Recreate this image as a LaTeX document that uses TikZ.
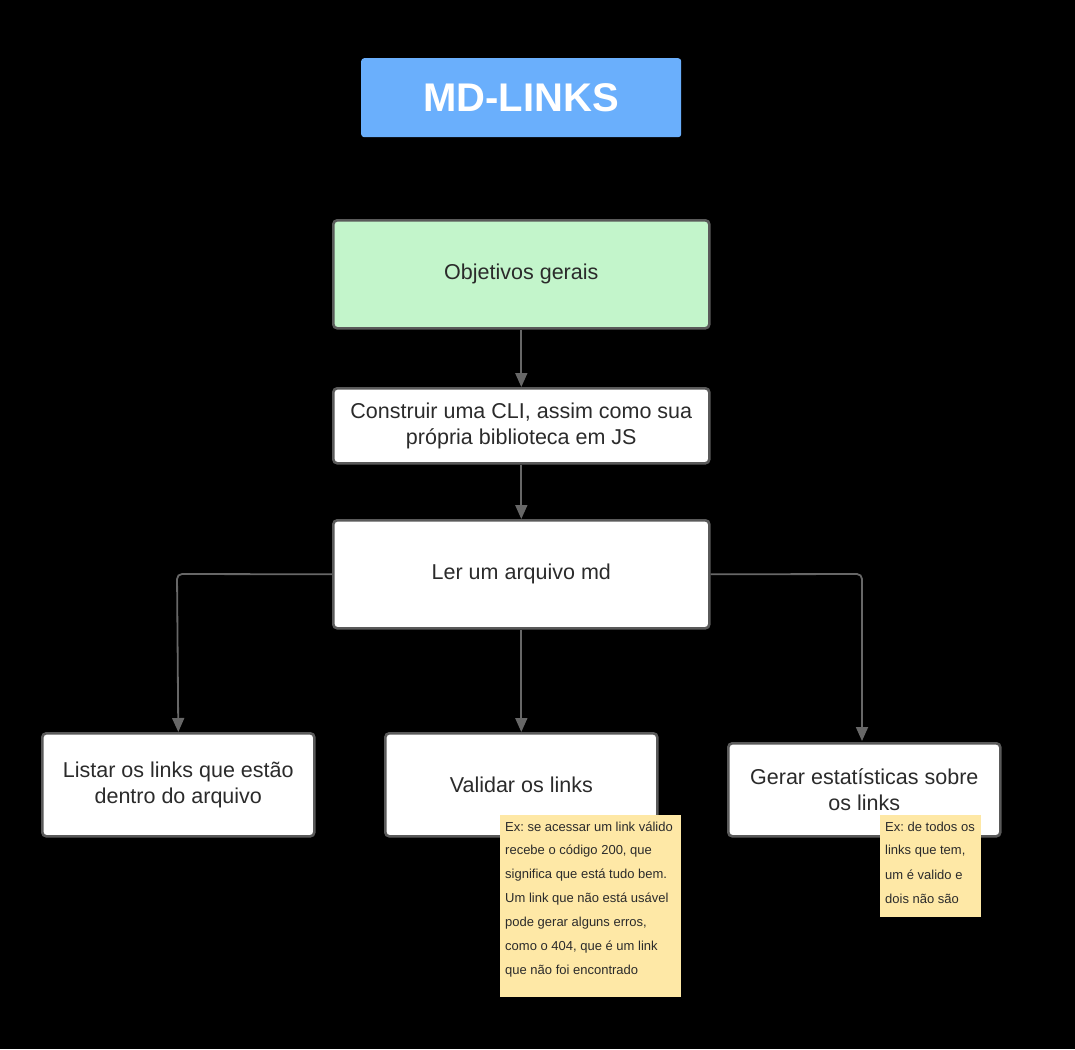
\documentclass[tikz,border=0pt]{standalone}
\usepackage{fontspec}
\setmainfont{Liberation Sans}
\usetikzlibrary{arrows.meta}
\definecolor{titlebl}{HTML}{6AAFFC}
\definecolor{goalgr}{HTML}{C3F5CB}
\definecolor{edgegr}{HTML}{5A5A5A}
\definecolor{arrowgr}{HTML}{676767}
\definecolor{stickyy}{HTML}{FEE8A6}
\definecolor{txt}{HTML}{2B2B2B}
\frenchspacing
\begin{document}
\begin{tikzpicture}[x=1pt,y=-1pt,
  box/.style={draw=edgegr,line width=2.6pt,rounded corners=4pt,fill=white,text=txt,
    font=\fontsize{21.5}{26.5}\selectfont,align=center,anchor=north west,inner sep=0pt},
  sticky/.style={fill=stickyy,anchor=north west,inner sep=0pt,text=txt},
  stickytext/.style={anchor=west,inner sep=0pt,text=txt,font=\fontsize{13}{14}\selectfont},
  conn/.style={draw=arrowgr,line width=1.8pt,-{Triangle[length=14pt,width=12pt]},rounded corners=5pt}]
\useasboundingbox (0,0) rectangle (1075,1049);
\fill[black] (0,0) rectangle (1075,1049);
% title
\node[fill=titlebl,rounded corners=3pt,minimum width=320pt,minimum height=79pt,anchor=north west,inner sep=0pt,
  text=white,font=\fontsize{40}{40}\selectfont\bfseries] (title) at (361,58) {MD-LINKS};
% boxes
\node[box,fill=goalgr,minimum width=376pt,minimum height=108pt] (goal) at (332,219) {Objetivos gerais};
\node[box,minimum width=376pt,minimum height=75pt] (cli) at (332,387) {Construir uma CLI, assim como sua\\própria biblioteca em JS};
\node[box,minimum width=376pt,minimum height=108pt] (ler) at (332,519) {Ler um arquivo md};
\node[box,minimum width=272pt,minimum height=103pt] (listar) at (41,732) {Listar os links que estão\\dentro do arquivo};
\node[box,minimum width=272pt,minimum height=103pt] (validar) at (384,732) {Validar os links};
\node[box,minimum width=272pt,minimum height=93pt] (gerar) at (727,742) {Gerar estatísticas sobre\\os links};
% connectors
\draw[conn] (goal.south) -- (cli.north);
\draw[conn] (cli.south) -- (ler.north);
\draw[conn] (ler.south) -- (validar.north);
\coordinate (lc) at (177,574);
\coordinate (rc) at (862,574);
\draw[conn] (ler.west) -- (lc) -- (listar.north);
\draw[conn] (ler.east) -- (rc) -- (862,741);
% sticky notes
\node[sticky,minimum width=181pt,minimum height=182pt] (s1) at (500,815) {};
\foreach \t [count=\i from 0] in {{Ex: se acessar um link válido},{recebe o código 200, que},{significa que está tudo bem.},{Um link que não está usável},{pode gerar alguns erros,},{como o 404, que é um link},{que não foi encontrado}}
  \node[stickytext] (s1l\i) at (505,{827+24*\i}) {\t};
\node[sticky,minimum width=101pt,minimum height=102pt] (s2) at (880,815) {};
\foreach \t [count=\i from 0] in {{Ex: de todos os},{links que tem,},{um é valido e},{dois não são}}
  \node[stickytext] (s2l\i) at (885,{827+24*\i}) {\t};
\end{tikzpicture}
\end{document}
